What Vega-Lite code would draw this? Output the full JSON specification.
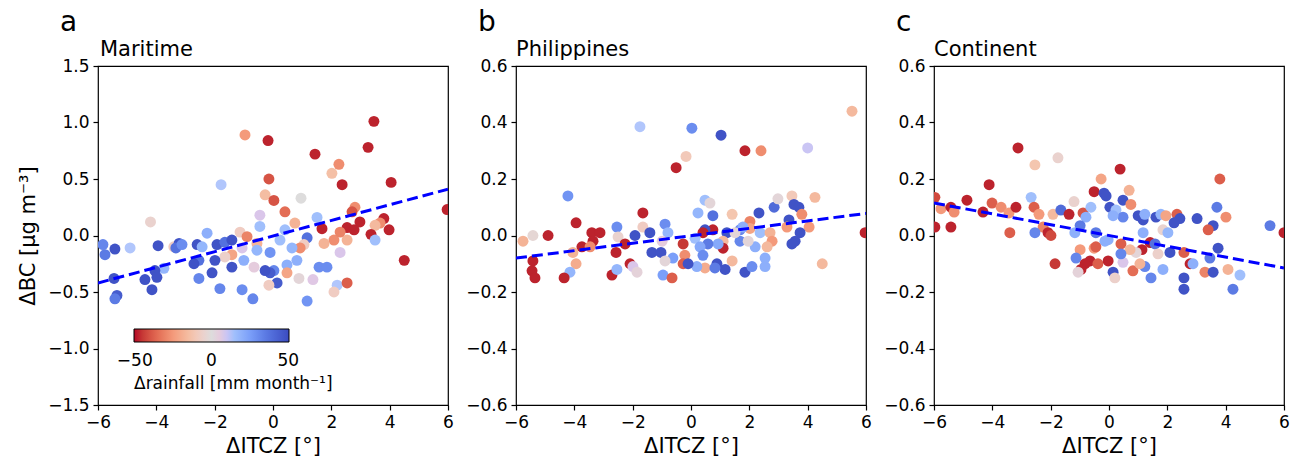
{
  "$schema": "https://vega.github.io/schema/vega-lite/v6.json",
  "background": "white",
  "padding": {"left": 16, "top": 9, "right": 5, "bottom": 5},
  "spacing": 10,
  "config": {
    "font": "DejaVu Sans",
    "view": {"stroke": "black", "strokeWidth": 1.2},
    "axis": {"grid": false, "domain": false, "labelFlush": false, "tickColor": "black", "tickSize": 5, "tickWidth": 1.2, "labelFontSize": 17, "labelColor": "black", "labelPadding": 4, "titleFontSize": 21, "titleFontWeight": "normal", "titleColor": "black", "labelFont": "DejaVu Sans", "titleFont": "DejaVu Sans"},
    "axisY": {"minExtent": 50, "maxExtent": 50, "titlePadding": 10, "labelExpr": "replace(format(datum.value, '.1f'), '-', '−')"},
    "axisX": {"titlePadding": 5, "labelExpr": "replace(format(datum.value, 'd'), '-', '−')"},
    "title": {"font": "DejaVu Sans", "fontWeight": "normal", "anchor": "start", "frame": "group", "baseline": "alphabetic", "color": "black"}
  },
  "datasets": {
    "points": [
      {"region":"Maritime","itcz":-0.96,"bc":0.89,"rain":-25},
      {"region":"Maritime","itcz":-0.17,"bc":0.84,"rain":-48},
      {"region":"Maritime","itcz":-1.78,"bc":0.45,"rain":12},
      {"region":"Maritime","itcz":-0.14,"bc":0.50,"rain":-40},
      {"region":"Maritime","itcz":-0.27,"bc":0.36,"rain":-15},
      {"region":"Maritime","itcz":0.03,"bc":0.31,"rain":-40},
      {"region":"Maritime","itcz":-0.45,"bc":0.18,"rain":8},
      {"region":"Maritime","itcz":-0.45,"bc":0.08,"rain":15},
      {"region":"Maritime","itcz":-4.2,"bc":0.12,"rain":-5},
      {"region":"Maritime","itcz":3.46,"bc":1.01,"rain":-48},
      {"region":"Maritime","itcz":1.44,"bc":0.72,"rain":-48},
      {"region":"Maritime","itcz":3.26,"bc":0.78,"rain":-48},
      {"region":"Maritime","itcz":2.26,"bc":0.63,"rain":-28},
      {"region":"Maritime","itcz":2.02,"bc":0.55,"rain":-14},
      {"region":"Maritime","itcz":2.37,"bc":0.45,"rain":-48},
      {"region":"Maritime","itcz":4.05,"bc":0.47,"rain":-48},
      {"region":"Maritime","itcz":0.96,"bc":0.33,"rain":0},
      {"region":"Maritime","itcz":0.41,"bc":0.21,"rain":-35},
      {"region":"Maritime","itcz":2.81,"bc":0.25,"rain":-28},
      {"region":"Maritime","itcz":2.71,"bc":0.21,"rain":-40},
      {"region":"Maritime","itcz":2.98,"bc":0.12,"rain":-48},
      {"region":"Maritime","itcz":3.80,"bc":0.15,"rain":-48},
      {"region":"Maritime","itcz":3.67,"bc":0.11,"rain":-28},
      {"region":"Maritime","itcz":3.50,"bc":0.09,"rain":-16},
      {"region":"Maritime","itcz":3.98,"bc":0.05,"rain":-48},
      {"region":"Maritime","itcz":3.36,"bc":0.01,"rain":-48},
      {"region":"Maritime","itcz":1.68,"bc":0.06,"rain":-48},
      {"region":"Maritime","itcz":2.54,"bc":0.07,"rain":-48},
      {"region":"Maritime","itcz":2.78,"bc":0.05,"rain":-48},
      {"region":"Maritime","itcz":1.51,"bc":0.16,"rain":15},
      {"region":"Maritime","itcz":0.75,"bc":0.11,"rain":-18},
      {"region":"Maritime","itcz":5.97,"bc":0.23,"rain":-48},
      {"region":"Maritime","itcz":4.50,"bc":-0.22,"rain":-48},
      {"region":"Maritime","itcz":1.17,"bc":-0.02,"rain":38},
      {"region":"Maritime","itcz":2.09,"bc":-0.04,"rain":-28},
      {"region":"Maritime","itcz":2.54,"bc":-0.04,"rain":-18},
      {"region":"Maritime","itcz":2.30,"bc":0.03,"rain":-30},
      {"region":"Maritime","itcz":1.75,"bc":-0.07,"rain":-18},
      {"region":"Maritime","itcz":1.06,"bc":-0.08,"rain":-8},
      {"region":"Maritime","itcz":0.93,"bc":-0.11,"rain":-28},
      {"region":"Maritime","itcz":0.65,"bc":-0.11,"rain":18},
      {"region":"Maritime","itcz":0.24,"bc":-0.04,"rain":15},
      {"region":"Maritime","itcz":0.41,"bc":0.05,"rain":15},
      {"region":"Maritime","itcz":2.30,"bc":-0.15,"rain":8},
      {"region":"Maritime","itcz":3.50,"bc":-0.04,"rain":15},
      {"region":"Maritime","itcz":1.58,"bc":-0.28,"rain":30},
      {"region":"Maritime","itcz":1.85,"bc":-0.28,"rain":30},
      {"region":"Maritime","itcz":0.82,"bc":-0.22,"rain":20},
      {"region":"Maritime","itcz":0.48,"bc":-0.26,"rain":20},
      {"region":"Maritime","itcz":0.03,"bc":-0.31,"rain":32},
      {"region":"Maritime","itcz":-0.10,"bc":-0.15,"rain":28},
      {"region":"Maritime","itcz":0.48,"bc":-0.33,"rain":-22},
      {"region":"Maritime","itcz":0.89,"bc":-0.38,"rain":2},
      {"region":"Maritime","itcz":1.37,"bc":-0.39,"rain":7},
      {"region":"Maritime","itcz":2.20,"bc":-0.44,"rain":12},
      {"region":"Maritime","itcz":2.54,"bc":-0.42,"rain":-38},
      {"region":"Maritime","itcz":2.09,"bc":-0.50,"rain":-8},
      {"region":"Maritime","itcz":1.17,"bc":-0.58,"rain":28},
      {"region":"Maritime","itcz":0.14,"bc":-0.42,"rain":45},
      {"region":"Maritime","itcz":-0.14,"bc":-0.44,"rain":-8},
      {"region":"Maritime","itcz":-0.10,"bc":-0.33,"rain":45},
      {"region":"Maritime","itcz":-5.83,"bc":-0.08,"rain":32},
      {"region":"Maritime","itcz":-5.76,"bc":-0.17,"rain":35},
      {"region":"Maritime","itcz":-5.42,"bc":-0.12,"rain":48},
      {"region":"Maritime","itcz":-4.90,"bc":-0.11,"rain":12},
      {"region":"Maritime","itcz":-3.94,"bc":-0.09,"rain":48},
      {"region":"Maritime","itcz":-3.40,"bc":-0.10,"rain":-8},
      {"region":"Maritime","itcz":-3.22,"bc":-0.07,"rain":48},
      {"region":"Maritime","itcz":-3.33,"bc":-0.11,"rain":38},
      {"region":"Maritime","itcz":-3.12,"bc":-0.08,"rain":30},
      {"region":"Maritime","itcz":-2.60,"bc":-0.08,"rain":48},
      {"region":"Maritime","itcz":-2.43,"bc":-0.10,"rain":18},
      {"region":"Maritime","itcz":-2.26,"bc":0.02,"rain":20},
      {"region":"Maritime","itcz":-1.92,"bc":-0.08,"rain":48},
      {"region":"Maritime","itcz":-1.65,"bc":-0.06,"rain":38},
      {"region":"Maritime","itcz":-1.41,"bc":-0.04,"rain":48},
      {"region":"Maritime","itcz":-1.13,"bc":0.03,"rain":-8},
      {"region":"Maritime","itcz":-0.89,"bc":-0.01,"rain":-30},
      {"region":"Maritime","itcz":-0.55,"bc":-0.07,"rain":-18},
      {"region":"Maritime","itcz":-1.06,"bc":-0.11,"rain":8},
      {"region":"Maritime","itcz":-1.41,"bc":-0.17,"rain":-22},
      {"region":"Maritime","itcz":-1.65,"bc":-0.19,"rain":-6},
      {"region":"Maritime","itcz":-1.99,"bc":-0.22,"rain":48},
      {"region":"Maritime","itcz":-2.54,"bc":-0.22,"rain":38},
      {"region":"Maritime","itcz":-2.71,"bc":-0.25,"rain":48},
      {"region":"Maritime","itcz":-2.09,"bc":-0.33,"rain":48},
      {"region":"Maritime","itcz":-1.41,"bc":-0.28,"rain":48},
      {"region":"Maritime","itcz":-1.00,"bc":-0.22,"rain":20},
      {"region":"Maritime","itcz":-0.65,"bc":-0.28,"rain":5},
      {"region":"Maritime","itcz":-0.27,"bc":-0.31,"rain":48},
      {"region":"Maritime","itcz":-0.55,"bc":-0.13,"rain":18},
      {"region":"Maritime","itcz":-3.74,"bc":-0.29,"rain":18},
      {"region":"Maritime","itcz":-4.05,"bc":-0.31,"rain":48},
      {"region":"Maritime","itcz":-3.98,"bc":-0.37,"rain":48},
      {"region":"Maritime","itcz":-4.39,"bc":-0.39,"rain":48},
      {"region":"Maritime","itcz":-4.15,"bc":-0.48,"rain":48},
      {"region":"Maritime","itcz":-5.45,"bc":-0.38,"rain":48},
      {"region":"Maritime","itcz":-5.35,"bc":-0.53,"rain":45},
      {"region":"Maritime","itcz":-5.42,"bc":-0.56,"rain":35},
      {"region":"Maritime","itcz":-2.54,"bc":-0.38,"rain":32},
      {"region":"Maritime","itcz":-1.82,"bc":-0.47,"rain":32},
      {"region":"Maritime","itcz":-1.06,"bc":-0.48,"rain":30},
      {"region":"Maritime","itcz":-0.69,"bc":-0.56,"rain":32},
      {"region":"Philippines","itcz":-1.75,"bc":0.385,"rain":12},
      {"region":"Philippines","itcz":0.03,"bc":0.38,"rain":30},
      {"region":"Philippines","itcz":-0.17,"bc":0.28,"rain":-10},
      {"region":"Philippines","itcz":-0.51,"bc":0.24,"rain":-48},
      {"region":"Philippines","itcz":-4.22,"bc":0.14,"rain":28},
      {"region":"Philippines","itcz":-1.65,"bc":0.08,"rain":-48},
      {"region":"Philippines","itcz":-3.94,"bc":0.045,"rain":-48},
      {"region":"Philippines","itcz":-5.76,"bc":-0.02,"rain":-18},
      {"region":"Philippines","itcz":-5.42,"bc":0.0,"rain":-3},
      {"region":"Philippines","itcz":-4.90,"bc":0.0,"rain":-48},
      {"region":"Philippines","itcz":-3.40,"bc":0.01,"rain":-48},
      {"region":"Philippines","itcz":-3.12,"bc":0.01,"rain":-48},
      {"region":"Philippines","itcz":-3.36,"bc":-0.02,"rain":-48},
      {"region":"Philippines","itcz":-3.74,"bc":-0.04,"rain":-48},
      {"region":"Philippines","itcz":-4.05,"bc":-0.06,"rain":-18},
      {"region":"Philippines","itcz":-3.46,"bc":-0.04,"rain":-28},
      {"region":"Philippines","itcz":-2.54,"bc":0.03,"rain":30},
      {"region":"Philippines","itcz":-2.50,"bc":-0.005,"rain":-5},
      {"region":"Philippines","itcz":-2.26,"bc":-0.03,"rain":-48},
      {"region":"Philippines","itcz":-2.57,"bc":-0.06,"rain":-48},
      {"region":"Philippines","itcz":-1.92,"bc":0.0,"rain":48},
      {"region":"Philippines","itcz":-1.65,"bc":0.03,"rain":-8},
      {"region":"Philippines","itcz":-1.41,"bc":0.01,"rain":48},
      {"region":"Philippines","itcz":-0.89,"bc":0.04,"rain":30},
      {"region":"Philippines","itcz":-0.79,"bc":0.01,"rain":18},
      {"region":"Philippines","itcz":-0.99,"bc":-0.02,"rain":5},
      {"region":"Philippines","itcz":-1.34,"bc":-0.06,"rain":48},
      {"region":"Philippines","itcz":-1.03,"bc":-0.06,"rain":48},
      {"region":"Philippines","itcz":-0.62,"bc":-0.08,"rain":25},
      {"region":"Philippines","itcz":-0.27,"bc":-0.03,"rain":-45},
      {"region":"Philippines","itcz":-0.21,"bc":-0.07,"rain":-28},
      {"region":"Philippines","itcz":-0.27,"bc":-0.10,"rain":-38},
      {"region":"Philippines","itcz":-0.89,"bc":-0.09,"rain":2},
      {"region":"Philippines","itcz":-5.42,"bc":-0.09,"rain":-48},
      {"region":"Philippines","itcz":-5.45,"bc":-0.125,"rain":-48},
      {"region":"Philippines","itcz":-5.35,"bc":-0.15,"rain":-48},
      {"region":"Philippines","itcz":-3.94,"bc":-0.10,"rain":-20},
      {"region":"Philippines","itcz":-4.15,"bc":-0.13,"rain":18},
      {"region":"Philippines","itcz":-4.35,"bc":-0.15,"rain":-48},
      {"region":"Philippines","itcz":-2.71,"bc":-0.14,"rain":-48},
      {"region":"Philippines","itcz":-2.54,"bc":-0.12,"rain":18},
      {"region":"Philippines","itcz":-2.09,"bc":-0.10,"rain":-48},
      {"region":"Philippines","itcz":-1.99,"bc":-0.11,"rain":8},
      {"region":"Philippines","itcz":-1.85,"bc":-0.13,"rain":3},
      {"region":"Philippines","itcz":-0.96,"bc":-0.14,"rain":25},
      {"region":"Philippines","itcz":-0.65,"bc":-0.15,"rain":-38},
      {"region":"Philippines","itcz":1.03,"bc":0.355,"rain":48},
      {"region":"Philippines","itcz":1.85,"bc":0.30,"rain":-48},
      {"region":"Philippines","itcz":2.40,"bc":0.30,"rain":-28},
      {"region":"Philippines","itcz":4.00,"bc":0.31,"rain":10},
      {"region":"Philippines","itcz":5.52,"bc":0.44,"rain":-16},
      {"region":"Philippines","itcz":0.48,"bc":0.125,"rain":15},
      {"region":"Philippines","itcz":0.65,"bc":0.115,"rain":2},
      {"region":"Philippines","itcz":0.24,"bc":0.08,"rain":18},
      {"region":"Philippines","itcz":0.75,"bc":0.07,"rain":38},
      {"region":"Philippines","itcz":2.33,"bc":0.08,"rain":48},
      {"region":"Philippines","itcz":2.85,"bc":0.10,"rain":40},
      {"region":"Philippines","itcz":2.98,"bc":0.13,"rain":2},
      {"region":"Philippines","itcz":3.46,"bc":0.14,"rain":-10},
      {"region":"Philippines","itcz":4.25,"bc":0.135,"rain":-16},
      {"region":"Philippines","itcz":3.53,"bc":0.11,"rain":48},
      {"region":"Philippines","itcz":3.70,"bc":0.10,"rain":48},
      {"region":"Philippines","itcz":3.80,"bc":0.075,"rain":-28},
      {"region":"Philippines","itcz":4.05,"bc":0.03,"rain":-25},
      {"region":"Philippines","itcz":3.74,"bc":0.01,"rain":48},
      {"region":"Philippines","itcz":3.57,"bc":-0.02,"rain":48},
      {"region":"Philippines","itcz":3.46,"bc":-0.03,"rain":48},
      {"region":"Philippines","itcz":3.36,"bc":0.055,"rain":48},
      {"region":"Philippines","itcz":3.29,"bc":0.03,"rain":-25},
      {"region":"Philippines","itcz":4.50,"bc":-0.10,"rain":-16},
      {"region":"Philippines","itcz":5.97,"bc":0.01,"rain":-48},
      {"region":"Philippines","itcz":1.41,"bc":0.075,"rain":-12},
      {"region":"Philippines","itcz":2.02,"bc":0.05,"rain":-30},
      {"region":"Philippines","itcz":2.02,"bc":0.025,"rain":-22},
      {"region":"Philippines","itcz":0.75,"bc":0.02,"rain":-48},
      {"region":"Philippines","itcz":0.48,"bc":0.02,"rain":48},
      {"region":"Philippines","itcz":1.23,"bc":0.01,"rain":48},
      {"region":"Philippines","itcz":1.68,"bc":0.02,"rain":32},
      {"region":"Philippines","itcz":1.78,"bc":0.03,"rain":20},
      {"region":"Philippines","itcz":2.37,"bc":0.01,"rain":15},
      {"region":"Philippines","itcz":2.71,"bc":0.01,"rain":-18},
      {"region":"Philippines","itcz":2.78,"bc":-0.02,"rain":-25},
      {"region":"Philippines","itcz":2.61,"bc":-0.04,"rain":-16},
      {"region":"Philippines","itcz":2.20,"bc":-0.04,"rain":20},
      {"region":"Philippines","itcz":1.68,"bc":-0.02,"rain":32},
      {"region":"Philippines","itcz":1.51,"bc":0.01,"rain":2},
      {"region":"Philippines","itcz":1.96,"bc":-0.02,"rain":2},
      {"region":"Philippines","itcz":1.10,"bc":-0.02,"rain":-16},
      {"region":"Philippines","itcz":1.10,"bc":-0.045,"rain":-48},
      {"region":"Philippines","itcz":0.93,"bc":-0.03,"rain":22},
      {"region":"Philippines","itcz":0.58,"bc":-0.03,"rain":35},
      {"region":"Philippines","itcz":0.41,"bc":0.01,"rain":-48},
      {"region":"Philippines","itcz":0.14,"bc":-0.01,"rain":15},
      {"region":"Philippines","itcz":0.31,"bc":-0.04,"rain":22},
      {"region":"Philippines","itcz":0.41,"bc":-0.07,"rain":30},
      {"region":"Philippines","itcz":0.89,"bc":-0.10,"rain":48},
      {"region":"Philippines","itcz":1.17,"bc":-0.12,"rain":48},
      {"region":"Philippines","itcz":1.41,"bc":-0.09,"rain":-16},
      {"region":"Philippines","itcz":1.85,"bc":-0.13,"rain":48},
      {"region":"Philippines","itcz":2.09,"bc":-0.11,"rain":30},
      {"region":"Philippines","itcz":2.54,"bc":-0.11,"rain":20},
      {"region":"Philippines","itcz":2.54,"bc":-0.08,"rain":20},
      {"region":"Philippines","itcz":0.48,"bc":-0.115,"rain":-20},
      {"region":"Philippines","itcz":0.20,"bc":-0.11,"rain":20},
      {"region":"Philippines","itcz":0.82,"bc":-0.115,"rain":35},
      {"region":"Philippines","itcz":-0.10,"bc":-0.10,"rain":48},
      {"region":"Continent","itcz":-3.12,"bc":0.31,"rain":-48},
      {"region":"Continent","itcz":-2.54,"bc":0.25,"rain":-12},
      {"region":"Continent","itcz":-1.75,"bc":0.275,"rain":-5},
      {"region":"Continent","itcz":-4.11,"bc":0.18,"rain":-48},
      {"region":"Continent","itcz":-4.87,"bc":0.125,"rain":-48},
      {"region":"Continent","itcz":-5.97,"bc":0.135,"rain":-42},
      {"region":"Continent","itcz":-5.76,"bc":0.095,"rain":-25},
      {"region":"Continent","itcz":-5.42,"bc":0.10,"rain":-48},
      {"region":"Continent","itcz":-5.31,"bc":0.083,"rain":-28},
      {"region":"Continent","itcz":-4.32,"bc":0.083,"rain":-48},
      {"region":"Continent","itcz":-4.01,"bc":0.115,"rain":-38},
      {"region":"Continent","itcz":-3.70,"bc":0.10,"rain":-28},
      {"region":"Continent","itcz":-3.43,"bc":0.08,"rain":-25},
      {"region":"Continent","itcz":-3.19,"bc":0.10,"rain":-48},
      {"region":"Continent","itcz":-2.67,"bc":0.135,"rain":15},
      {"region":"Continent","itcz":-2.57,"bc":0.10,"rain":-38},
      {"region":"Continent","itcz":-2.40,"bc":0.075,"rain":-25},
      {"region":"Continent","itcz":-1.92,"bc":0.075,"rain":-16},
      {"region":"Continent","itcz":-2.26,"bc":0.03,"rain":-30},
      {"region":"Continent","itcz":-2.54,"bc":0.01,"rain":32},
      {"region":"Continent","itcz":-2.09,"bc":0.01,"rain":-48},
      {"region":"Continent","itcz":-1.99,"bc":0.0,"rain":-42},
      {"region":"Continent","itcz":-3.40,"bc":0.01,"rain":-38},
      {"region":"Continent","itcz":-5.42,"bc":0.03,"rain":-48},
      {"region":"Continent","itcz":-5.97,"bc":0.03,"rain":-48},
      {"region":"Continent","itcz":-1.85,"bc":-0.10,"rain":-45},
      {"region":"Continent","itcz":-1.65,"bc":0.09,"rain":40},
      {"region":"Continent","itcz":-1.37,"bc":0.075,"rain":-48},
      {"region":"Continent","itcz":-1.20,"bc":0.12,"rain":-5},
      {"region":"Continent","itcz":-0.89,"bc":0.08,"rain":-40},
      {"region":"Continent","itcz":-0.79,"bc":0.065,"rain":20},
      {"region":"Continent","itcz":-0.62,"bc":0.10,"rain":15},
      {"region":"Continent","itcz":-0.51,"bc":0.155,"rain":-48},
      {"region":"Continent","itcz":-0.27,"bc":0.20,"rain":-22},
      {"region":"Continent","itcz":-0.17,"bc":0.15,"rain":48},
      {"region":"Continent","itcz":-0.99,"bc":0.035,"rain":35},
      {"region":"Continent","itcz":-1.17,"bc":0.01,"rain":20},
      {"region":"Continent","itcz":-0.45,"bc":0.01,"rain":35},
      {"region":"Continent","itcz":-0.14,"bc":-0.02,"rain":20},
      {"region":"Continent","itcz":-0.99,"bc":-0.05,"rain":-25},
      {"region":"Continent","itcz":-1.13,"bc":-0.08,"rain":32},
      {"region":"Continent","itcz":-0.65,"bc":-0.09,"rain":-48},
      {"region":"Continent","itcz":-0.82,"bc":-0.10,"rain":-48},
      {"region":"Continent","itcz":-0.96,"bc":-0.12,"rain":-48},
      {"region":"Continent","itcz":-1.06,"bc":-0.13,"rain":3},
      {"region":"Continent","itcz":-0.38,"bc":-0.10,"rain":-38},
      {"region":"Continent","itcz":-0.51,"bc":-0.045,"rain":-25},
      {"region":"Continent","itcz":-0.45,"bc":-0.04,"rain":-38},
      {"region":"Continent","itcz":0.38,"bc":0.235,"rain":-48},
      {"region":"Continent","itcz":3.80,"bc":0.20,"rain":-38},
      {"region":"Continent","itcz":0.69,"bc":0.16,"rain":-18},
      {"region":"Continent","itcz":-0.10,"bc":0.14,"rain":48},
      {"region":"Continent","itcz":0.48,"bc":0.125,"rain":48},
      {"region":"Continent","itcz":0.75,"bc":0.11,"rain":-28},
      {"region":"Continent","itcz":0.03,"bc":0.10,"rain":48},
      {"region":"Continent","itcz":0.24,"bc":0.09,"rain":15},
      {"region":"Continent","itcz":0.48,"bc":0.065,"rain":32},
      {"region":"Continent","itcz":0.14,"bc":0.07,"rain":20},
      {"region":"Continent","itcz":1.00,"bc":0.07,"rain":48},
      {"region":"Continent","itcz":1.17,"bc":0.055,"rain":48},
      {"region":"Continent","itcz":1.23,"bc":0.075,"rain":20},
      {"region":"Continent","itcz":1.61,"bc":0.065,"rain":48},
      {"region":"Continent","itcz":1.78,"bc":0.075,"rain":18},
      {"region":"Continent","itcz":1.95,"bc":0.07,"rain":-22},
      {"region":"Continent","itcz":2.33,"bc":0.075,"rain":-38},
      {"region":"Continent","itcz":2.43,"bc":0.06,"rain":48},
      {"region":"Continent","itcz":2.23,"bc":0.045,"rain":48},
      {"region":"Continent","itcz":3.02,"bc":0.06,"rain":48},
      {"region":"Continent","itcz":3.70,"bc":0.10,"rain":35},
      {"region":"Continent","itcz":4.01,"bc":0.065,"rain":-28},
      {"region":"Continent","itcz":3.57,"bc":0.035,"rain":48},
      {"region":"Continent","itcz":3.40,"bc":0.02,"rain":-38},
      {"region":"Continent","itcz":5.52,"bc":0.035,"rain":35},
      {"region":"Continent","itcz":6.00,"bc":0.01,"rain":-48},
      {"region":"Continent","itcz":1.85,"bc":0.02,"rain":-5},
      {"region":"Continent","itcz":2.02,"bc":0.01,"rain":18},
      {"region":"Continent","itcz":1.41,"bc":-0.025,"rain":-48},
      {"region":"Continent","itcz":1.58,"bc":-0.03,"rain":38},
      {"region":"Continent","itcz":1.17,"bc":0.01,"rain":20},
      {"region":"Continent","itcz":0.41,"bc":-0.03,"rain":-38},
      {"region":"Continent","itcz":-0.03,"bc":-0.015,"rain":20},
      {"region":"Continent","itcz":1.13,"bc":-0.05,"rain":-48},
      {"region":"Continent","itcz":0.93,"bc":-0.06,"rain":2},
      {"region":"Continent","itcz":0.72,"bc":-0.05,"rain":-16},
      {"region":"Continent","itcz":1.68,"bc":-0.065,"rain":-6},
      {"region":"Continent","itcz":2.09,"bc":-0.06,"rain":48},
      {"region":"Continent","itcz":2.57,"bc":-0.06,"rain":-38},
      {"region":"Continent","itcz":2.78,"bc":-0.10,"rain":-48},
      {"region":"Continent","itcz":2.88,"bc":-0.10,"rain":20},
      {"region":"Continent","itcz":3.46,"bc":-0.08,"rain":35},
      {"region":"Continent","itcz":3.74,"bc":-0.045,"rain":48},
      {"region":"Continent","itcz":3.29,"bc":-0.13,"rain":-30},
      {"region":"Continent","itcz":3.57,"bc":-0.13,"rain":48},
      {"region":"Continent","itcz":4.08,"bc":-0.12,"rain":-18},
      {"region":"Continent","itcz":4.49,"bc":-0.14,"rain":15},
      {"region":"Continent","itcz":4.25,"bc":-0.19,"rain":35},
      {"region":"Continent","itcz":2.57,"bc":-0.15,"rain":48},
      {"region":"Continent","itcz":2.57,"bc":-0.19,"rain":48},
      {"region":"Continent","itcz":1.85,"bc":-0.12,"rain":20},
      {"region":"Continent","itcz":1.44,"bc":-0.15,"rain":32},
      {"region":"Continent","itcz":1.23,"bc":-0.11,"rain":32},
      {"region":"Continent","itcz":0.82,"bc":-0.125,"rain":-35},
      {"region":"Continent","itcz":1.06,"bc":-0.10,"rain":-18},
      {"region":"Continent","itcz":0.48,"bc":-0.095,"rain":8},
      {"region":"Continent","itcz":0.14,"bc":-0.13,"rain":48},
      {"region":"Continent","itcz":0.20,"bc":-0.15,"rain":-6},
      {"region":"Continent","itcz":-0.03,"bc":-0.09,"rain":-48},
      {"region":"Continent","itcz":0.41,"bc":-0.065,"rain":32}
    ],
    "fits": [
      {"region":"Maritime","itcz":-6,"bc":-0.42},
      {"region":"Maritime","itcz":6,"bc":0.41},
      {"region":"Philippines","itcz":-6,"bc":-0.08},
      {"region":"Philippines","itcz":6,"bc":0.078},
      {"region":"Continent","itcz":-6,"bc":0.115},
      {"region":"Continent","itcz":6,"bc":-0.115}
    ]
  },
  "hconcat": [
    {
      "title": {"text": "a", "fontSize": 28, "dx": -38, "offset": 1},
      "vconcat": [
        {
          "width": 350, "height": 339,
          "title": {"text": "Maritime", "fontSize": 21, "dx": 2, "offset": -3},
          "layer": [
            {
              "data": {"name": "points"},
              "transform": [{"filter": "datum.region === 'Maritime'"}],
              "mark": {"type": "circle", "size": 120, "opacity": 1, "clip": true},
              "encoding": {
                "x": {"field": "itcz", "type": "quantitative", "scale": {"domain": [-6, 6], "nice": false, "zero": false}, "axis": {"values": [-6,-4,-2,0,2,4,6], "title": "ΔITCZ [°]"}},
                "y": {"field": "bc", "type": "quantitative", "scale": {"domain": [-1.5, 1.5], "nice": false, "zero": false}, "axis": {"values": [-1.5,-1,-0.5,0,0.5,1,1.5], "title": "ΔBC [μg m⁻³]"}},
                "color": {"field": "rain", "type": "quantitative", "scale": {"domain": [-50.5,-37.5,-25,-12.5,0,12.5,25,37.5,50.5], "range": ["#b40426","#de614d","#f49a7b","#f4c5ad","#dddcdc","#aac7fd","#7b9ff9","#5572df","#3b4cc0"], "clamp": true},
                  "legend": {"orient": "none", "direction": "horizontal", "legendX": 36, "legendY": 263, "gradientLength": 155, "gradientThickness": 13, "titleOrient": "bottom", "titleAnchor": "start", "title": "Δrainfall [mm month⁻¹]", "titleLimit": 400, "values": [-50, 0, 50], "labelExpr": "replace(format(datum.value, 'd'), '-', '−')", "labelFontSize": 17, "titleFontSize": 17, "titleFontWeight": "normal", "labelColor": "black", "titleColor": "black", "gradientStrokeColor": "black", "gradientStrokeWidth": 1, "labelOverlap": false, "titlePadding": 7, "labelOffset": 11}}
              }
            },
            {"mark": {"type": "rule", "color": "#808080", "strokeWidth": 2, "strokeDash": [8, 4]}, "encoding": {"x": {"datum": 0, "type": "quantitative", "scale": {"domain": [-6, 6], "nice": false, "zero": false}}}},
            {"mark": {"type": "rule", "color": "#808080", "strokeWidth": 2, "strokeDash": [8, 4]}, "encoding": {"y": {"datum": 0, "type": "quantitative", "scale": {"domain": [-1.5, 1.5], "nice": false, "zero": false}}}},
            {
              "data": {"name": "fits"},
              "transform": [{"filter": "datum.region === 'Maritime'"}],
              "mark": {"type": "line", "color": "#0000ff", "strokeWidth": 3, "strokeDash": [11, 5], "clip": true},
              "encoding": {"x": {"field": "itcz", "type": "quantitative", "scale": {"domain": [-6, 6], "nice": false, "zero": false}}, "y": {"field": "bc", "type": "quantitative", "scale": {"domain": [-1.5, 1.5], "nice": false, "zero": false}}}
            },
            {"mark": {"type": "text", "align": "left", "baseline": "middle", "fontSize": 17.5, "color": "black"}, "encoding": {"x": {"datum": -5.52, "type": "quantitative", "scale": {"domain": [-6, 6], "nice": false, "zero": false}}, "y": {"datum": 1.05, "type": "quantitative", "scale": {"domain": [-1.5, 1.5], "nice": false, "zero": false}}, "text": {"value": "r = 0.40, p < 0.001"}}}
          ]
        }
      ]
    },
    {
      "title": {"text": "b", "fontSize": 28, "dx": -38, "offset": 1},
      "vconcat": [
        {
          "width": 350, "height": 339,
          "title": {"text": "Philippines", "fontSize": 21, "dx": 0, "offset": -3},
          "layer": [
            {
              "data": {"name": "points"},
              "transform": [{"filter": "datum.region === 'Philippines'"}],
              "mark": {"type": "circle", "size": 120, "opacity": 1, "clip": true},
              "encoding": {
                "x": {"field": "itcz", "type": "quantitative", "scale": {"domain": [-6, 6], "nice": false, "zero": false}, "axis": {"values": [-6,-4,-2,0,2,4,6], "title": "ΔITCZ [°]"}},
                "y": {"field": "bc", "type": "quantitative", "scale": {"domain": [-0.6, 0.6], "nice": false, "zero": false}, "axis": {"values": [-0.6,-0.4,-0.2,0,0.2,0.4,0.6], "title": null}},
                "color": {"field": "rain", "type": "quantitative"}
              }
            },
            {"mark": {"type": "rule", "color": "#808080", "strokeWidth": 2, "strokeDash": [8, 4]}, "encoding": {"x": {"datum": 0, "type": "quantitative", "scale": {"domain": [-6, 6], "nice": false, "zero": false}}}},
            {"mark": {"type": "rule", "color": "#808080", "strokeWidth": 2, "strokeDash": [8, 4]}, "encoding": {"y": {"datum": 0, "type": "quantitative", "scale": {"domain": [-0.6, 0.6], "nice": false, "zero": false}}}},
            {
              "data": {"name": "fits"},
              "transform": [{"filter": "datum.region === 'Philippines'"}],
              "mark": {"type": "line", "color": "#0000ff", "strokeWidth": 3, "strokeDash": [11, 5], "clip": true},
              "encoding": {"x": {"field": "itcz", "type": "quantitative", "scale": {"domain": [-6, 6], "nice": false, "zero": false}}, "y": {"field": "bc", "type": "quantitative", "scale": {"domain": [-0.6, 0.6], "nice": false, "zero": false}}}
            },
            {"mark": {"type": "text", "align": "left", "baseline": "middle", "fontSize": 17.5, "color": "black"}, "encoding": {"x": {"datum": -5.49, "type": "quantitative", "scale": {"domain": [-6, 6], "nice": false, "zero": false}}, "y": {"datum": 0.42, "type": "quantitative", "scale": {"domain": [-0.6, 0.6], "nice": false, "zero": false}}, "text": {"value": "r = 0.27, p < 0.005"}}}
          ]
        }
      ]
    },
    {
      "title": {"text": "c", "fontSize": 28, "dx": -38, "offset": 1},
      "vconcat": [
        {
          "width": 350, "height": 339,
          "title": {"text": "Continent", "fontSize": 21, "dx": 0, "offset": -3},
          "layer": [
            {
              "data": {"name": "points"},
              "transform": [{"filter": "datum.region === 'Continent'"}],
              "mark": {"type": "circle", "size": 120, "opacity": 1, "clip": true},
              "encoding": {
                "x": {"field": "itcz", "type": "quantitative", "scale": {"domain": [-6, 6], "nice": false, "zero": false}, "axis": {"values": [-6,-4,-2,0,2,4,6], "title": "ΔITCZ [°]"}},
                "y": {"field": "bc", "type": "quantitative", "scale": {"domain": [-0.6, 0.6], "nice": false, "zero": false}, "axis": {"values": [-0.6,-0.4,-0.2,0,0.2,0.4,0.6], "title": null}},
                "color": {"field": "rain", "type": "quantitative"}
              }
            },
            {"mark": {"type": "rule", "color": "#808080", "strokeWidth": 2, "strokeDash": [8, 4]}, "encoding": {"x": {"datum": 0, "type": "quantitative", "scale": {"domain": [-6, 6], "nice": false, "zero": false}}}},
            {"mark": {"type": "rule", "color": "#808080", "strokeWidth": 2, "strokeDash": [8, 4]}, "encoding": {"y": {"datum": 0, "type": "quantitative", "scale": {"domain": [-0.6, 0.6], "nice": false, "zero": false}}}},
            {
              "data": {"name": "fits"},
              "transform": [{"filter": "datum.region === 'Continent'"}],
              "mark": {"type": "line", "color": "#0000ff", "strokeWidth": 3, "strokeDash": [11, 5], "clip": true},
              "encoding": {"x": {"field": "itcz", "type": "quantitative", "scale": {"domain": [-6, 6], "nice": false, "zero": false}}, "y": {"field": "bc", "type": "quantitative", "scale": {"domain": [-0.6, 0.6], "nice": false, "zero": false}}}
            },
            {"mark": {"type": "text", "align": "left", "baseline": "middle", "fontSize": 17.5, "color": "black"}, "encoding": {"x": {"datum": -5.45, "type": "quantitative", "scale": {"domain": [-6, 6], "nice": false, "zero": false}}, "y": {"datum": 0.42, "type": "quantitative", "scale": {"domain": [-0.6, 0.6], "nice": false, "zero": false}}, "text": {"value": "r = -0.44, p < 0.001"}}}
          ]
        }
      ]
    }
  ]
}
